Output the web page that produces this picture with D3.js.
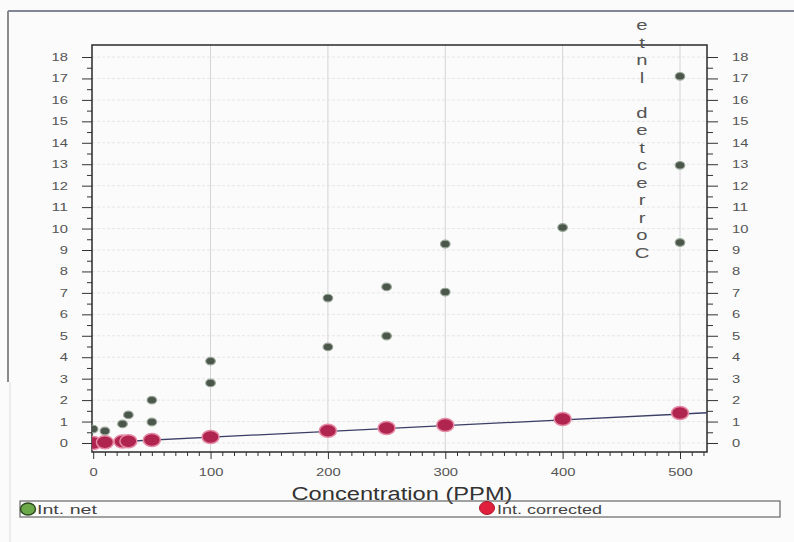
<!DOCTYPE html>
<html>
<head>
<meta charset="utf-8">
<script src="https://cdn.jsdelivr.net/npm/d3@7"></script>
<style>
  body { margin: 0; background: #fbfbfb; }
  svg { display: block; font-family: "Liberation Sans", Arial, sans-serif; }
  .axis path { display: none; }
  .axis line { stroke: #333; }
  .axis text { fill: #555; font-size: 11px; }
</style>
</head>
<body>
<div id="chart"></div>
<script>
// Int. net (gray-green dots)
var netX = [0, 10, 25, 30, 50, 50, 100, 100, 200, 200, 250, 250, 300, 300, 400, 500, 500, 500];
var netY = [0.65, 0.56, 0.89, 1.31, 2.0, 0.98, 3.82, 2.8, 6.76, 4.48, 7.28, 4.99, 9.28, 7.04, 10.05, 17.1, 12.95, 9.35];

// Int. corrected (red dots)
var corrX = [0, 10, 25, 30, 50, 100, 200, 250, 300, 400, 500];
var corrY = [0.0, 0.03, 0.07, 0.08, 0.14, 0.28, 0.57, 0.7, 0.84, 1.12, 1.4];

// corrected line (fit)
var fitX = [0, 523];
var fitY = [0, 1.41];

var xTicks = [0, 100, 200, 300, 400, 500];
var yTicks = d3.range(0, 19);
var sideLabel = "Corrected lnte";

var width = 794, height = 542;
var plot = { left: 92, right: 707, top: 45, bottom: 452 };

var svg = d3.select("#chart").append("svg")
    .attr("width", width)
    .attr("height", height);

svg.append("rect").attr("width", width).attr("height", height).attr("fill", "#fbfbfb");

// outer frame bits
svg.append("line").attr("x1", 8).attr("x2", 794).attr("y1", 11).attr("y2", 11)
    .attr("stroke", "#5a5f78").attr("stroke-width", 1.5);
svg.append("line").attr("x1", 8).attr("x2", 8).attr("y1", 11).attr("y2", 382)
    .attr("stroke", "#8a8a8a").attr("stroke-width", 2);
svg.append("line").attr("x1", 10).attr("x2", 10).attr("y1", 382).attr("y2", 542)
    .attr("stroke", "#dcdcdc").attr("stroke-width", 1);

var x = d3.scaleLinear().domain([-1, 523]).range([plot.left, plot.right]);
var y = d3.scaleLinear().domain([-0.42, 18.56]).range([plot.bottom, plot.top]);

svg.append("clipPath").attr("id", "clip")
    .append("rect")
    .attr("x", plot.left).attr("y", plot.top)
    .attr("width", plot.right - plot.left).attr("height", plot.bottom - plot.top);

// grid
svg.append("g").selectAll("line")
    .data(yTicks)
    .enter().append("line")
    .attr("x1", plot.left).attr("x2", plot.right)
    .attr("y1", function(d) { return y(d); })
    .attr("y2", function(d) { return y(d); })
    .attr("stroke", "#e6e6e6")
    .attr("stroke-dasharray", "3,2");

svg.append("g").selectAll("line")
    .data(xTicks.slice(1))
    .enter().append("line")
    .attr("x1", function(d) { return x(d); })
    .attr("x2", function(d) { return x(d); })
    .attr("y1", plot.top).attr("y2", plot.bottom)
    .attr("stroke", "#d4d4d4");

// the original picture is stretched sideways, so widen the tick text
function stretch(sel) {
    sel.selectAll("text")
        .attr("textLength", function() { return this.textContent.length * 8.2; })
        .attr("lengthAdjust", "spacingAndGlyphs");
}

// axes
svg.append("g").attr("class", "axis")
    .attr("transform", "translate(" + plot.left + ",0)")
    .call(d3.axisLeft(y).tickValues(yTicks).tickSize(10).tickPadding(14).tickFormat(d3.format("d")))
    .call(stretch);
svg.append("g").attr("class", "axis")
    .attr("transform", "translate(" + plot.left + ",0)")
    .call(d3.axisLeft(y).tickValues(d3.range(0.5, 18.5, 1)).tickSize(5).tickFormat(""));

svg.append("g").attr("class", "axis")
    .attr("transform", "translate(" + plot.right + ",0)")
    .call(d3.axisRight(y).tickValues(yTicks).tickSize(11).tickPadding(14).tickFormat(d3.format("d")))
    .call(stretch);
svg.append("g").attr("class", "axis")
    .attr("transform", "translate(" + plot.right + ",0)")
    .call(d3.axisRight(y).tickValues(d3.range(0.5, 18.5, 1)).tickSize(6).tickFormat(""));

svg.append("g").attr("class", "axis")
    .attr("transform", "translate(0," + plot.bottom + ")")
    .call(d3.axisBottom(x).tickValues(xTicks).tickSize(7).tickPadding(9).tickFormat(d3.format("d")))
    .call(stretch);
svg.append("g").attr("class", "axis")
    .attr("transform", "translate(0," + plot.bottom + ")")
    .call(d3.axisBottom(x).tickValues(d3.range(10, 521, 10).filter(function(d) { return d % 100 != 0; }))
        .tickSize(4).tickFormat(""));

// plot frame
svg.append("rect")
    .attr("x", plot.left).attr("y", plot.top)
    .attr("width", plot.right - plot.left).attr("height", plot.bottom - plot.top)
    .attr("fill", "none").attr("stroke", "#2a2a2a").attr("stroke-width", 1.5);

var marks = svg.append("g").attr("clip-path", "url(#clip)");

// fit line
var line = d3.line()
    .x(function(d) { return x(d[0]); })
    .y(function(d) { return y(d[1]); });
marks.append("path")
    .datum(d3.zip(fitX, fitY))
    .attr("d", line)
    .attr("fill", "none")
    .attr("stroke", "#3a3f66")
    .attr("stroke-width", 1.3);

// red corrected points
marks.selectAll(".corr")
    .data(d3.zip(corrX, corrY))
    .enter().append("ellipse")
    .attr("class", "corr")
    .attr("cx", function(d) { return x(d[0]); })
    .attr("cy", function(d) { return y(d[1]); })
    .attr("rx", 8.5).attr("ry", 6.5)
    .attr("fill", "#b02450")
    .attr("stroke", "#e58aa4")
    .attr("stroke-width", 1.5);

// net points
marks.selectAll(".net")
    .data(d3.zip(netX, netY))
    .enter().append("ellipse")
    .attr("class", "net")
    .attr("cx", function(d) { return x(d[0]); })
    .attr("cy", function(d) { return y(d[1]); })
    .attr("rx", 4.8).attr("ry", 3.8)
    .attr("fill", "#4c574c")
    .attr("stroke", "#9aa69a")
    .attr("stroke-width", 1.2);

// stacked side label, read bottom to top
var letters = sideLabel.split("").reverse();
var ly = d3.scaleLinear().domain([0, letters.length - 1]).range([25, 253]);
svg.append("g").selectAll("text")
    .data(letters)
    .enter().append("text")
    .attr("transform", function(d, i) { return "translate(642," + (ly(i) + 5) + ")scale(1.35,1)"; })
    .attr("text-anchor", "middle")
    .style("font-size", "15px")
    .style("fill", "#555")
    .text(function(d) { return d; });

// x title
svg.append("text")
    .attr("x", 402).attr("y", 500)
    .attr("text-anchor", "middle")
    .attr("textLength", 221)
    .attr("lengthAdjust", "spacingAndGlyphs")
    .style("font-size", "18px")
    .style("fill", "#333")
    .text("Concentration (PPM)");

// legend
svg.append("rect")
    .attr("x", 20).attr("y", 501).attr("width", 760).attr("height", 16)
    .attr("fill", "none").attr("stroke", "#666").attr("stroke-width", 1.2);
svg.append("ellipse").attr("cx", 28).attr("cy", 509).attr("rx", 7.5).attr("ry", 6)
    .attr("fill", "#6aa84a").attr("stroke", "#2e4a22").attr("stroke-width", 1.5);
svg.append("text").attr("x", 37).attr("y", 514)
    .attr("textLength", 60).attr("lengthAdjust", "spacingAndGlyphs")
    .style("font-size", "12px").style("fill", "#444").text("Int. net");
svg.append("ellipse").attr("cx", 487).attr("cy", 508).attr("rx", 7.5).attr("ry", 6.5)
    .attr("fill", "#e0203c").attr("stroke", "#a8182c").attr("stroke-width", 1);
svg.append("text").attr("x", 497).attr("y", 514)
    .attr("textLength", 105).attr("lengthAdjust", "spacingAndGlyphs")
    .style("font-size", "12px").style("fill", "#444").text("Int. corrected");
</script>
</body>
</html>
